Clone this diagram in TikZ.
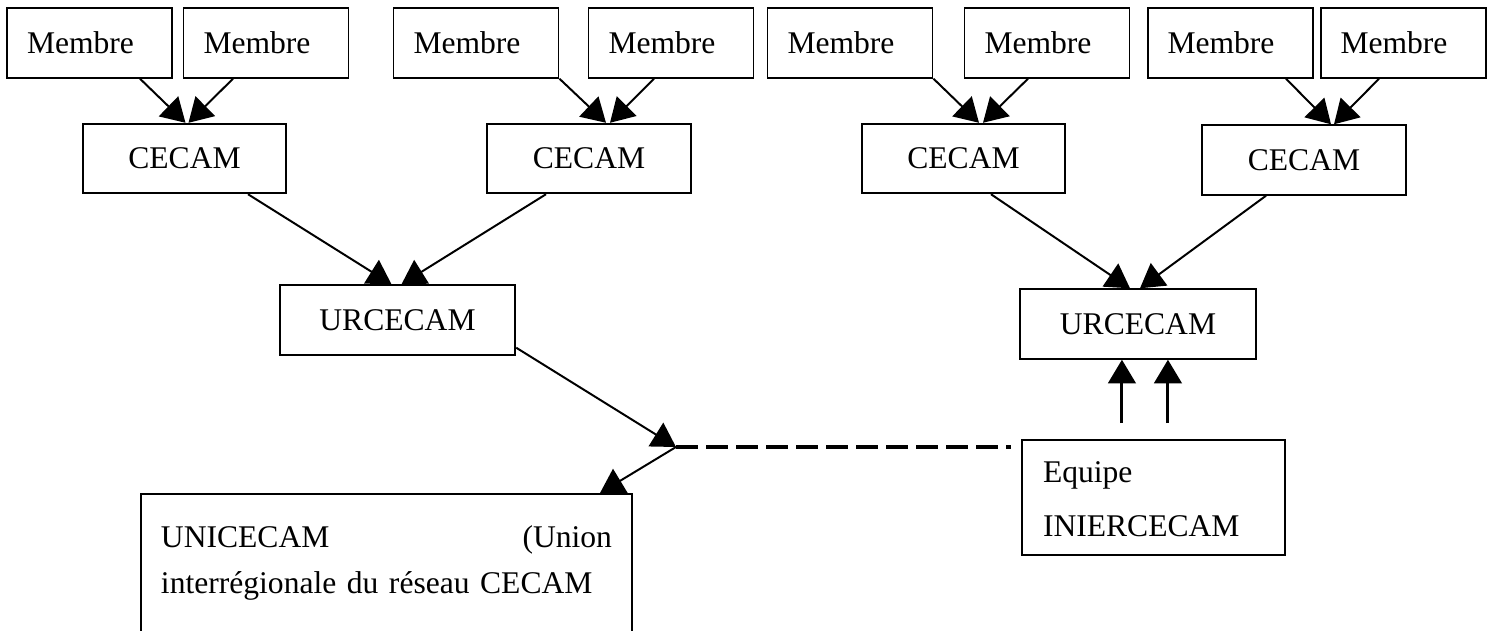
\documentclass[tikz,border=0pt]{standalone}
\usepackage{fontspec}
\setmainfont{Liberation Serif}
\usetikzlibrary{arrows.meta, calc}

\begin{document}
\begin{tikzpicture}[x=0.38pt, y=-0.38pt, >={Triangle[length=9pt, width=10.5pt]},
  every node/.style={font=\fontsize{12}{14}\selectfont},
  boite/.style={draw, line width=0.75pt, minimum height=26.4pt, inner sep=0pt},
  membre/.style={boite, minimum width=62.7pt, text width=47.5pt, align=left},
  cecam/.style={boite, minimum width=77.2pt},
  urcecam/.style={boite, minimum width=89.5pt},
  lien/.style={->, line width=0.75pt}]
  \useasboundingbox (0,0) rectangle (1492,630);
  \clip (0,0) rectangle (1492,630);

  % Membres (top row)
  \node[membre] (m1) at (89.5,43) {Membre};
  \node[membre] (m2) at (266,43) {Membre};
  \node[membre] (m3) at (476,43) {Membre};
  \node[membre] (m4) at (671,43) {Membre};
  \node[membre] (m5) at (850,43) {Membre};
  \node[membre] (m6) at (1047,43) {Membre};
  \node[membre] (m7) at (1230,43) {Membre};
  \node[membre] (m8) at (1403,43) {Membre};

  % CECAM
  \node[cecam] (c1) at (184.5,158.5) {CECAM};
  \node[cecam] (c2) at (589,158.5) {CECAM};
  \node[cecam] (c3) at (963.5,158.5) {CECAM};
  \node[cecam] (c4) at (1304,160) {CECAM};

  % URCECAM
  \node[urcecam] (u1) at (397.5,320) {URCECAM};
  \node[urcecam] (u2) at (1138,324) {URCECAM};

  % UNICECAM and Equipe (bottom)
  \node[draw, line width=0.75pt, anchor=north west, inner xsep=7.6pt, inner ysep=6.8pt,
    text width=171.4pt, align=left, text height=13.7pt, text depth=37pt,
    font=\fontsize{12}{17.5}\selectfont] (uni) at (140,493)
    {UNICECAM\hfill(Union\\interrégionale du réseau CECAM};
  \node[draw, line width=0.75pt, anchor=north west, inner xsep=8pt, inner ysep=6.8pt,
    text width=83.9pt, align=left, text height=9.5pt, text depth=20.5pt,
    font=\fontsize{12}{20.5}\selectfont] (equipe) at (1021,439)
    {Equipe\\INIERCECAM};
  \coordinate (j) at (676,447);

  % Membre -> CECAM
  \draw[lien] ($(m1.south)+(50.5,0)$) -- ($(c1.north)+(1,0)$);
  \draw[lien] ($(m2.south)+(-33,0)$) -- ($(c1.north)+(4,0)$);
  \draw[lien] (m3.south east) -- ($(c2.north)+(17,0)$);
  \draw[lien] ($(m4.south)+(-17,0)$) -- ($(c2.north)+(21,0)$);
  \draw[lien] (m5.south east) -- ($(c3.north)+(15.5,0)$);
  \draw[lien] ($(m6.south)+(-19,0)$) -- ($(c3.north)+(19.5,0)$);
  \draw[lien] ($(m7.south)+(56,0)$) -- ($(c4.north)+(27,0)$);
  \draw[lien] ($(m8.south)+(-24,0)$) -- ($(c4.north)+(30,0)$);

  % CECAM -> URCECAM
  \draw[lien] ($(c1.south)+(63.5,0)$) -- ($(u1.north)+(-6,0)$);
  \draw[lien] ($(c2.south)+(-43,0)$) -- ($(u1.north)+(4,0)$);
  \draw[lien] ($(c3.south)+(27.5,0)$) -- ($(u2.north)+(-8,0)$);
  \draw[lien] ($(c4.south)+(-38,0)$) -- ($(u2.north)+(2,0)$);

  % URCECAM -> UNICECAM, dashed link to Equipe
  \draw[lien] ($(u1.south east)+(0,-8)$) -- (j);
  \draw[lien] (j) -- ($(uni.north east)+(-33,0)$);
  \draw[line width=1.3pt, dash pattern=on 8.3pt off 3.1pt] (j) -- ($(equipe.north west)+(-10,8)$);

  % Equipe -> URCECAM
  \draw[lien, line width=1.1pt] ($(equipe.north)+(-31.5,-16)$) coordinate (e1) -- (e1 |- u2.south);
  \draw[lien, line width=1.1pt] ($(equipe.north)+(14.5,-16)$) coordinate (e2) -- (e2 |- u2.south);
\end{tikzpicture}
\end{document}
